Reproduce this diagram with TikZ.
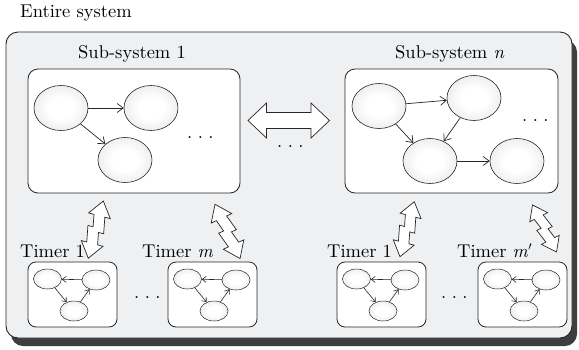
\documentclass[tikz,border=0pt]{standalone}
\usepackage{fontspec}
\setmainfont{lmroman10-regular.otf}[ItalicFont=lmroman10-italic.otf]
\usetikzlibrary{shapes.geometric,arrows.meta,shadows}
\definecolor{sysgray}{HTML}{EFF0F2}
\definecolor{ellgray}{HTML}{CFD0D2}
\definecolor{linecol}{HTML}{262626}
\definecolor{shadecol}{HTML}{3E3E3E}
\pgfdeclareradialshading{ellshade}{\pgfpoint{0bp}{0bp}}{%
  color(0bp)=(white); color(12bp)=(white); color(50bp)=(ellgray)}
% widely spaced ellipsis
\newcommand{\wdots}{.\kern5.5pt.\kern5.5pt.}
\begin{document}
\begin{tikzpicture}[x=1pt,y=-1pt,
  font=\fontsize{18.5}{22}\selectfont,
  sysbox/.style={draw=linecol, line width=0.9pt, fill=sysgray, rounded corners=12pt,
    minimum width=566pt, minimum height=306pt, inner sep=0pt,
    drop shadow={shadow xshift=5pt, shadow yshift=-8pt, fill=shadecol, opacity=1}},
  subbox/.style={draw=linecol, line width=0.8pt, fill=white, rounded corners=10pt,
    minimum width=212pt, minimum height=124pt, inner sep=0pt},
  tbox/.style={draw=linecol, line width=0.8pt, fill=white, rounded corners=8pt,
    minimum width=89pt, minimum height=65pt, inner sep=0pt},
  bell/.style={ellipse, draw=linecol, line width=0.6pt, shading=ellshade,
    minimum width=54pt, minimum height=45pt, inner sep=0pt},
  sell/.style={ellipse, draw=linecol, line width=0.5pt, shading=ellshade,
    minimum width=28pt, minimum height=20pt, inner sep=0pt},
  barr/.style={draw=linecol, line width=0.7pt, -{Straight Barb[length=6pt,width=9pt]}},
  sarr/.style={draw=linecol, line width=0.6pt, -{Straight Barb[length=4pt,width=6pt]}},
  fatarr/.style={draw=linecol, line width=0.7pt, fill=white, line join=miter},
  lbl/.style={anchor=base west, inner sep=0pt},
  zz/.pic={
    \draw[fatarr] (0,0) -- (11,15) -- (5.5,15) -- (8.5,31) -- (3.25,31) -- (5.5,43)
      -- (11,43) -- (0,58) -- (-11,43) -- (-5.5,43) -- (-8.5,27) -- (-3.25,27)
      -- (-5.5,15) -- (-11,15) -- cycle;}
]
\useasboundingbox (0,0) rectangle (579,349);

% whole system frame
\node[sysbox] (sys) at (289,185) {};
\node[lbl] (tsys) at (20,17) {Entire system};

% sub-systems
\node[subbox] (s1) at (134,131) {};
\node[subbox, minimum width=213pt] (sn) at (451.5,131) {};
\node[lbl] (ts1) at (78,58) {Sub-system 1};
\node[lbl] (tsn) at (395,58) {Sub-system \textit{n}};

% graph inside sub-system 1
\node[bell] (p1) at (61,108) {};
\node[bell] (p2) at (151,108) {};
\node[bell] (p3) at (125,160) {};
\draw[barr] (p1) -- (p2);
\draw[barr] (p1) -- (p3);
\node[lbl] (d1) at (187,138) {\wdots};

% graph inside sub-system n
\node[bell] (q1) at (379,106) {};
\node[bell] (q2) at (474,98) {};
\node[bell] (q3) at (430,161) {};
\node[bell] (q4) at (517,161) {};
\draw[barr] (q1) -- (q2);
\draw[barr] (q1) -- (q3);
\draw[barr] (q2) -- (q3);
\draw[barr] (q3) -- (q4);
\node[lbl] (d2) at (522,121) {\wdots};

% exchange between sub-systems
\draw[fatarr] (248,120.5) -- (266.5,103) -- (266.5,112.5) -- (311,112.5) -- (311,103)
  -- (329.5,120.5) -- (311,138) -- (311,128.5) -- (266.5,128.5) -- (266.5,138) -- cycle;
\node[lbl] (d3) at (277,147) {\wdots};

% timer with its small graph
\newcommand{\timerunit}[3]{%
  \begin{scope}[shift={(#2,#3)}, name prefix=#1-]
    \node[tbox] (box) at (44.5,32.5) {};
    \node[sell] (a) at (19.5,17) {};
    \node[sell] (b) at (68,18) {};
    \node[sell] (c) at (46,49) {};
    \draw[sarr] (b) -- (a);
    \draw[sarr] (a) -- (c);
    \draw[sarr] (c) -- (b);
  \end{scope}}

\timerunit{ta}{28}{262}
\timerunit{tb}{168}{262}
\timerunit{tc}{337}{262}
\timerunit{td}{478}{262}

\node[lbl] (la) at (20,257) {Timer 1};
\node[lbl] (lb) at (142,257) {Timer \textit{m}};
\node[lbl] (lc) at (327,257) {Timer 1};
\node[lbl] (ld) at (457,257) {Timer \textit{m}$'$};
\node[lbl] (d4) at (134,298) {\wdots};
\node[lbl] (d5) at (441,298) {\wdots};

% links between sub-systems and timers
\pic[rotate=-14.7, scale=1.02] at (103.3,201) {zz};
\pic[rotate=24.8, scale=1.03] at (215,204.3) {zz};
\pic[rotate=-14.6, scale=0.98] at (414.3,201.7) {zz};
\pic[rotate=27.1, scale=0.91] at (532.5,205) {zz};
\end{tikzpicture}
\end{document}
